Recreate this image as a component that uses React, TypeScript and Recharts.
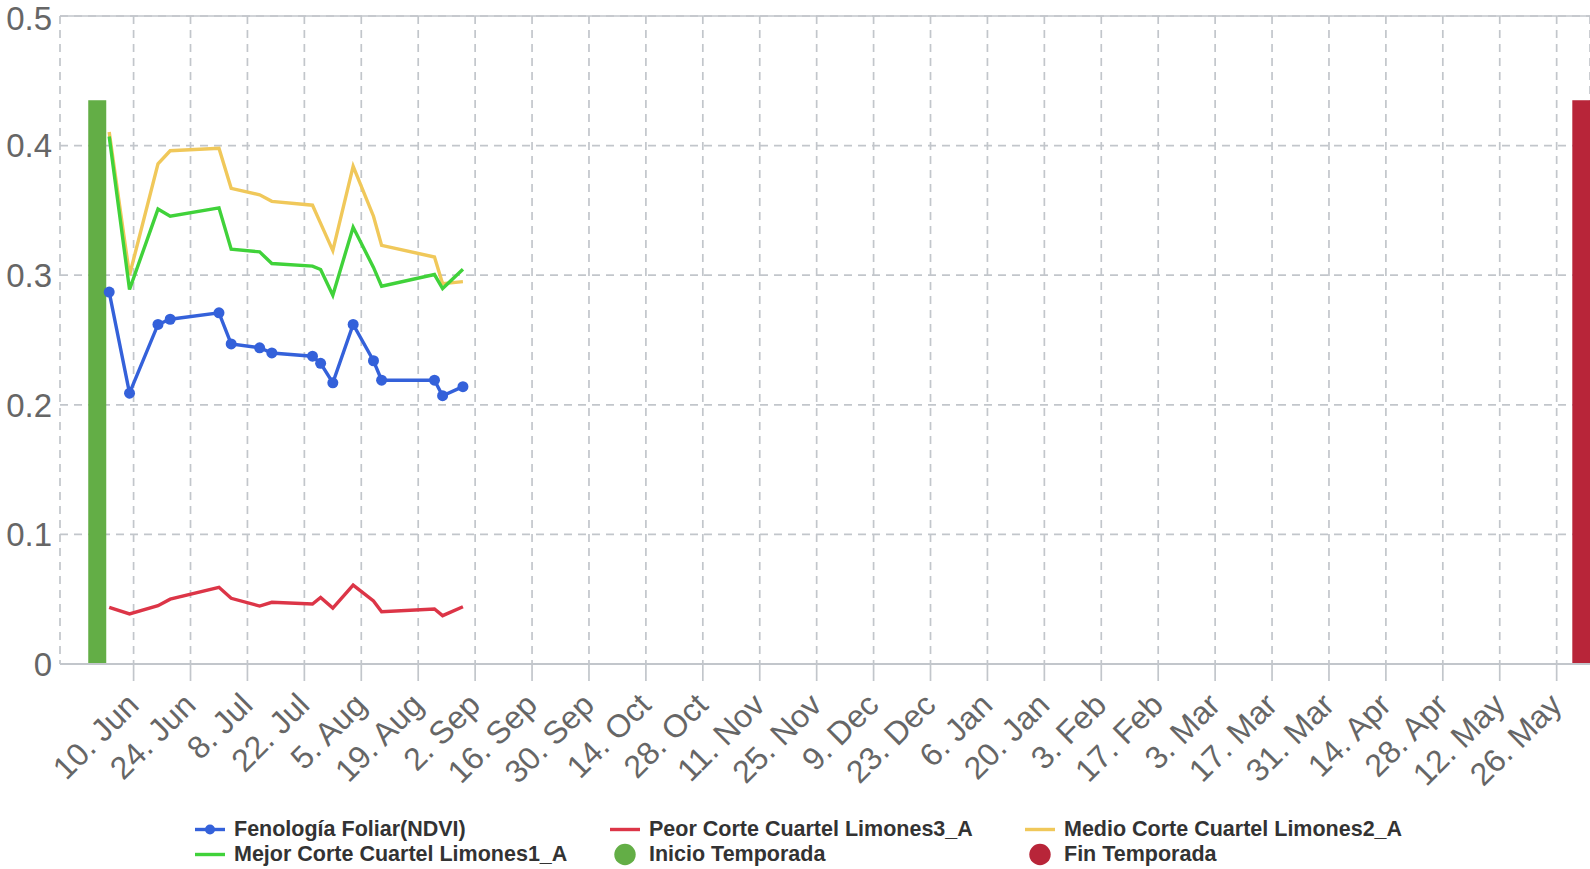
import React from "react";
import { ComposedChart, Line, Bar, XAxis, YAxis, CartesianGrid, Legend, ReferenceLine } from "recharts";

const fechas = ["2024-06-04", "2024-06-09", "2024-06-16", "2024-06-19", "2024-07-01", "2024-07-04", "2024-07-11", "2024-07-14", "2024-07-24", "2024-07-26", "2024-07-29", "2024-08-03", "2024-08-08", "2024-08-10", "2024-08-23", "2024-08-25", "2024-08-30"];
const ndvi = [0.287, 0.209, 0.262, 0.266, 0.271, 0.247, 0.244, 0.24, 0.2375, 0.232, 0.217, 0.262, 0.234, 0.219, 0.219, 0.207, 0.214];
const peor = [0.0437, 0.0386, 0.045, 0.05, 0.0592, 0.0507, 0.0447, 0.0476, 0.0463, 0.0514, 0.0432, 0.0609, 0.0486, 0.0403, 0.0424, 0.0373, 0.0442];
const medio = [0.4105, 0.3, 0.386, 0.396, 0.398, 0.367, 0.362, 0.357, 0.354, 0.34, 0.319, 0.384, 0.3455, 0.323, 0.314, 0.2935, 0.295];
const mejor = [0.407, 0.289, 0.351, 0.3455, 0.352, 0.32, 0.318, 0.309, 0.307, 0.3044, 0.2846, 0.337, 0.306, 0.2915, 0.3005, 0.2897, 0.3046];

const inicioFecha = "2024-06-01";
const finFecha = "2025-06-01";
const temporadaAltura = 0.435;

const tickFechas = ["2024-06-10", "2024-06-24", "2024-07-08", "2024-07-22", "2024-08-05", "2024-08-19", "2024-09-02", "2024-09-16", "2024-09-30", "2024-10-14", "2024-10-28", "2024-11-11", "2024-11-25", "2024-12-09", "2024-12-23", "2025-01-06", "2025-01-20", "2025-02-03", "2025-02-17", "2025-03-03", "2025-03-17", "2025-03-31", "2025-04-14", "2025-04-28", "2025-05-12", "2025-05-26"];
const meses = ["Jan", "Feb", "Mar", "Apr", "May", "Jun", "Jul", "Aug", "Sep", "Oct", "Nov", "Dec"];
const yTicks = [0, 0.1, 0.2, 0.3, 0.4, 0.5];

const DIA = 86400000;
const ms = (f: string) => Date.parse(f);

const T0 = ms(tickFechas[0]);
const xDomain = [T0 - 18.1 * DIA, T0 + 358.2 * DIA];

const data = [
  { t: ms(inicioFecha), inicio: temporadaAltura },
  ...fechas.map((f, i) => ({ t: ms(f), ndvi: ndvi[i], peor: peor[i], medio: medio[i], mejor: mejor[i] })),
  { t: ms(finFecha), fin: temporadaAltura },
];

const COLORES = {
  ndvi: "#3461da",
  peor: "#dc3547",
  medio: "#f0c85a",
  mejor: "#40d23a",
  inicio: "#63ae46",
  fin: "#b82539",
};

const GRIS = "#c2c6cb";
const FUENTE = "'Liberation Sans', Arial, sans-serif";

const TickFecha = (props: any) => {
  const { x, y, payload } = props;
  const d = new Date(payload.value);
  return (
    <text
      x={0}
      y={0}
      transform={`translate(${x + 7},${y + 24}) rotate(-45)`}
      textAnchor="end"
      fill="#666666"
      fontSize={32}
      fontFamily={FUENTE}
    >
      {`${d.getUTCDate()}. ${meses[d.getUTCMonth()]}`}
    </text>
  );
};

const BarraTemporada = (props: any) => {
  const { x, y, width, height, fill } = props;
  if (!height || height <= 0) return null;
  const cx = x + width / 2;
  return <rect x={cx - 9} y={y} width={18} height={height} fill={fill} />;
};

const items = [
  { nombre: "Fenología Foliar(NDVI)", color: COLORES.ndvi, tipo: "puntos", col: 0, fila: 0 },
  { nombre: "Peor Corte Cuartel Limones3_A", color: COLORES.peor, tipo: "linea", col: 1, fila: 0 },
  { nombre: "Medio Corte Cuartel Limones2_A", color: COLORES.medio, tipo: "linea", col: 2, fila: 0 },
  { nombre: "Mejor Corte Cuartel Limones1_A", color: COLORES.mejor, tipo: "linea", col: 0, fila: 1 },
  { nombre: "Inicio Temporada", color: COLORES.inicio, tipo: "circulo", col: 1, fila: 1 },
  { nombre: "Fin Temporada", color: COLORES.fin, tipo: "circulo", col: 2, fila: 1 },
];

const Leyenda = () => (
  <div style={{ position: "relative", width: 1590, height: 64 }}>
    {items.map((it) => (
      <div
        key={it.nombre}
        style={{
          position: "absolute",
          left: 195 + it.col * 415,
          top: 12 + it.fila * 25,
          height: 25,
          display: "flex",
          alignItems: "center",
          fontFamily: FUENTE,
          fontWeight: 700,
          fontSize: 21.5,
          color: "#333333",
          whiteSpace: "nowrap",
        }}
      >
        <svg width={30} height={25} style={{ marginRight: 9 }}>
          {it.tipo === "circulo" ? (
            <circle cx={15} cy={12.5} r={10.7} fill={it.color} />
          ) : (
            <line x1={0} x2={30} y1={12.5} y2={12.5} stroke={it.color} strokeWidth={3.4} />
          )}
          {it.tipo === "puntos" && <circle cx={15} cy={12.5} r={5} fill={it.color} />}
        </svg>
        <span style={{ lineHeight: "25px" }}>{it.nombre}</span>
      </div>
    ))}
  </div>
);

export default function App() {
  return (
    <div style={{ position: "absolute", left: 0, top: 0, width: 1590, height: 869, background: "#ffffff" }}>
      <ComposedChart width={1590} height={869} data={data} margin={{ top: 16, right: 0, left: 0, bottom: 0 }}>
        <CartesianGrid stroke={GRIS} strokeWidth={1.7} strokeDasharray="8 6" />
        <ReferenceLine y={0.5} stroke={GRIS} strokeWidth={1.7} />
        <XAxis
          dataKey="t"
          type="number"
          domain={xDomain}
          allowDataOverflow
          ticks={tickFechas.map(ms)}
          interval={0}
          height={141}
          tickSize={17}
          tickMargin={2}
          tick={<TickFecha />}
          axisLine={{ stroke: GRIS, strokeWidth: 2 }}
          tickLine={{ stroke: GRIS, strokeWidth: 1.7 }}
        />
        <YAxis
          type="number"
          domain={[0, 0.5]}
          ticks={yTicks}
          width={60}
          axisLine={false}
          tickLine={false}
          tickSize={8}
          tickMargin={0}
          tickFormatter={(v: number) => String(v)}
          tick={{ fill: "#666666", fontSize: 33, fontFamily: FUENTE }}
        />
        <Bar dataKey="inicio" stackId="temporada" fill={COLORES.inicio} shape={<BarraTemporada />} isAnimationActive={false} />
        <Bar dataKey="fin" stackId="temporada" fill={COLORES.fin} shape={<BarraTemporada />} isAnimationActive={false} />
        <Line
          type="linear"
          dataKey="ndvi"
          stroke={COLORES.ndvi}
          strokeWidth={3.4}
          dot={{ r: 5.5, fill: COLORES.ndvi, stroke: COLORES.ndvi, strokeWidth: 0 }}
          activeDot={false}
          isAnimationActive={false}
        />
        <Line type="linear" dataKey="peor" stroke={COLORES.peor} strokeWidth={3.4} dot={false} activeDot={false} isAnimationActive={false} />
        <Line type="linear" dataKey="medio" stroke={COLORES.medio} strokeWidth={3.4} dot={false} activeDot={false} isAnimationActive={false} />
        <Line type="linear" dataKey="mejor" stroke={COLORES.mejor} strokeWidth={3.4} dot={false} activeDot={false} isAnimationActive={false} />
        <Legend verticalAlign="bottom" align="left" wrapperStyle={{ left: 0, width: 1590, height: 64 }} content={() => <Leyenda />} />
      </ComposedChart>
    </div>
  );
}
